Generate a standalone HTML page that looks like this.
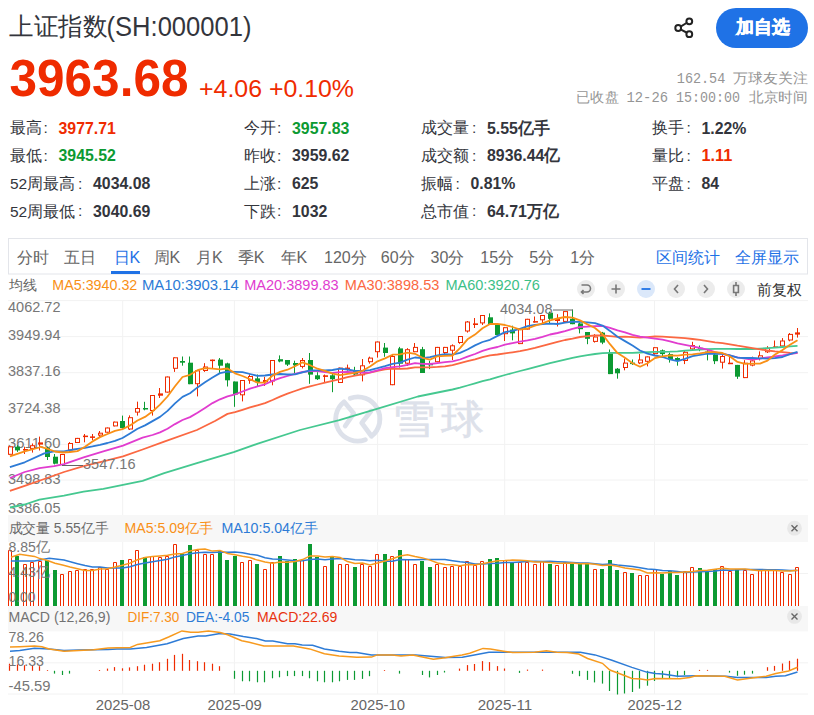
<!DOCTYPE html>
<html><head><meta charset="utf-8"><style>html,body{margin:0;padding:0;background:#fff;width:814px;height:715px;overflow:hidden}svg{display:block}</style></head>
<body><svg width="814" height="715" viewBox="0 0 814 715" style="font-family:'Liberation Sans',sans-serif">
<text x="9" y="35.2" font-size="24.6" fill="#33353c" font-weight="normal" font-family="'Liberation Sans',sans-serif" text-anchor="start" textLength="98" lengthAdjust="spacingAndGlyphs">上证指数</text>
<text x="106.5" y="35.5" font-size="27" fill="#33353c" font-weight="normal" font-family="'Liberation Sans',sans-serif" text-anchor="start" textLength="145" lengthAdjust="spacingAndGlyphs">(SH:000001)</text>
<text x="9.5" y="96.2" font-size="51" fill="#ef2b00" font-weight="bold" font-family="'Liberation Sans',sans-serif" text-anchor="start" textLength="179" lengthAdjust="spacingAndGlyphs">3963.68</text>
<text x="199" y="96.5" font-size="24" fill="#ef2b00" font-weight="normal" font-family="'Liberation Sans',sans-serif" text-anchor="start" textLength="155" lengthAdjust="spacingAndGlyphs">+4.06 +0.10%</text>
<g fill="none" stroke="#222" stroke-width="2"><circle cx="689.3" cy="21.3" r="2.9"/><circle cx="678.2" cy="28" r="2.9"/><circle cx="689.3" cy="34.2" r="2.9"/><path d="M681 26.3 L686.5 23 M681 29.7 L686.5 32.5"/></g>
<rect x="716" y="8" width="92" height="40" rx="20" fill="#1f72e6"/>
<text x="735.5" y="33.2" font-size="18.3" fill="#fff" font-weight="bold" font-family="'Liberation Sans',sans-serif" text-anchor="start" textLength="54" lengthAdjust="spacingAndGlyphs" stroke="#fff" stroke-width="0.5">加自选</text>
<text x="676.8" y="82.8" font-size="14" fill="#959595" font-weight="normal" font-family="'Liberation Mono',monospace" text-anchor="start" textLength="48.5" lengthAdjust="spacingAndGlyphs">162.54</text>
<text x="733" y="82.8" font-size="14" fill="#959595" font-weight="normal" font-family="'Liberation Mono',monospace" text-anchor="start" textLength="74.5" lengthAdjust="spacingAndGlyphs">万球友关注</text>
<text x="576.3" y="101.8" font-size="14" fill="#959595" font-weight="normal" font-family="'Liberation Mono',monospace" text-anchor="start" textLength="42.5" lengthAdjust="spacingAndGlyphs">已收盘</text>
<text x="626.5" y="101.8" font-size="14" fill="#959595" font-weight="normal" font-family="'Liberation Mono',monospace" text-anchor="start" textLength="41.5" lengthAdjust="spacingAndGlyphs">12-26</text>
<text x="676" y="101.8" font-size="14" fill="#959595" font-weight="normal" font-family="'Liberation Mono',monospace" text-anchor="start" textLength="64" lengthAdjust="spacingAndGlyphs">15:00:00</text>
<text x="749" y="101.8" font-size="14" fill="#959595" font-weight="normal" font-family="'Liberation Mono',monospace" text-anchor="start" textLength="58.5" lengthAdjust="spacingAndGlyphs">北京时间</text>
<text x="10" y="133.3" font-size="15.5" fill="#33353c" font-weight="normal" font-family="'Liberation Sans',sans-serif" text-anchor="start">最高</text>
<text x="43.5" y="133.0" font-size="15.5" fill="#33353c" font-weight="normal" font-family="'Liberation Sans',sans-serif" text-anchor="start">:</text>
<text x="58.5" y="133.5" font-size="17" fill="#ef2b00" font-weight="bold" font-family="'Liberation Sans',sans-serif" text-anchor="start" textLength="57.3" lengthAdjust="spacingAndGlyphs">3977.71</text>
<text x="10" y="161.10000000000002" font-size="15.5" fill="#33353c" font-weight="normal" font-family="'Liberation Sans',sans-serif" text-anchor="start">最低</text>
<text x="43.5" y="160.8" font-size="15.5" fill="#33353c" font-weight="normal" font-family="'Liberation Sans',sans-serif" text-anchor="start">:</text>
<text x="58.5" y="161.3" font-size="17" fill="#0c9a32" font-weight="bold" font-family="'Liberation Sans',sans-serif" text-anchor="start" textLength="57.3" lengthAdjust="spacingAndGlyphs">3945.52</text>
<text x="10" y="188.9" font-size="15.5" fill="#33353c" font-weight="normal" font-family="'Liberation Sans',sans-serif" text-anchor="start">52周最高</text>
<text x="78" y="188.6" font-size="15.5" fill="#33353c" font-weight="normal" font-family="'Liberation Sans',sans-serif" text-anchor="start">:</text>
<text x="93" y="189.1" font-size="17" fill="#33353c" font-weight="bold" font-family="'Liberation Sans',sans-serif" text-anchor="start" textLength="57.3" lengthAdjust="spacingAndGlyphs">4034.08</text>
<text x="10" y="216.70000000000002" font-size="15.5" fill="#33353c" font-weight="normal" font-family="'Liberation Sans',sans-serif" text-anchor="start">52周最低</text>
<text x="78" y="216.4" font-size="15.5" fill="#33353c" font-weight="normal" font-family="'Liberation Sans',sans-serif" text-anchor="start">:</text>
<text x="93" y="216.9" font-size="17" fill="#33353c" font-weight="bold" font-family="'Liberation Sans',sans-serif" text-anchor="start" textLength="57.3" lengthAdjust="spacingAndGlyphs">3040.69</text>
<text x="243.5" y="133.3" font-size="15.5" fill="#33353c" font-weight="normal" font-family="'Liberation Sans',sans-serif" text-anchor="start">今开</text>
<text x="277" y="133.0" font-size="15.5" fill="#33353c" font-weight="normal" font-family="'Liberation Sans',sans-serif" text-anchor="start">:</text>
<text x="292" y="133.5" font-size="17" fill="#0c9a32" font-weight="bold" font-family="'Liberation Sans',sans-serif" text-anchor="start" textLength="57.3" lengthAdjust="spacingAndGlyphs">3957.83</text>
<text x="243.5" y="161.10000000000002" font-size="15.5" fill="#33353c" font-weight="normal" font-family="'Liberation Sans',sans-serif" text-anchor="start">昨收</text>
<text x="277" y="160.8" font-size="15.5" fill="#33353c" font-weight="normal" font-family="'Liberation Sans',sans-serif" text-anchor="start">:</text>
<text x="292" y="161.3" font-size="17" fill="#33353c" font-weight="bold" font-family="'Liberation Sans',sans-serif" text-anchor="start" textLength="57.3" lengthAdjust="spacingAndGlyphs">3959.62</text>
<text x="243.5" y="188.9" font-size="15.5" fill="#33353c" font-weight="normal" font-family="'Liberation Sans',sans-serif" text-anchor="start">上涨</text>
<text x="277" y="188.6" font-size="15.5" fill="#33353c" font-weight="normal" font-family="'Liberation Sans',sans-serif" text-anchor="start">:</text>
<text x="292" y="189.1" font-size="17" fill="#33353c" font-weight="bold" font-family="'Liberation Sans',sans-serif" text-anchor="start" textLength="26.4" lengthAdjust="spacingAndGlyphs">625</text>
<text x="243.5" y="216.70000000000002" font-size="15.5" fill="#33353c" font-weight="normal" font-family="'Liberation Sans',sans-serif" text-anchor="start">下跌</text>
<text x="277" y="216.4" font-size="15.5" fill="#33353c" font-weight="normal" font-family="'Liberation Sans',sans-serif" text-anchor="start">:</text>
<text x="292" y="216.9" font-size="17" fill="#33353c" font-weight="bold" font-family="'Liberation Sans',sans-serif" text-anchor="start" textLength="35.3" lengthAdjust="spacingAndGlyphs">1032</text>
<text x="421.4" y="133.3" font-size="15.5" fill="#33353c" font-weight="normal" font-family="'Liberation Sans',sans-serif" text-anchor="start">成交量</text>
<text x="472" y="133.0" font-size="15.5" fill="#33353c" font-weight="normal" font-family="'Liberation Sans',sans-serif" text-anchor="start">:</text>
<text x="487" y="133.5" font-size="17" fill="#33353c" font-weight="bold" font-family="'Liberation Sans',sans-serif" text-anchor="start" textLength="62.8" lengthAdjust="spacingAndGlyphs">5.55亿手</text>
<text x="421.4" y="161.10000000000002" font-size="15.5" fill="#33353c" font-weight="normal" font-family="'Liberation Sans',sans-serif" text-anchor="start">成交额</text>
<text x="472" y="160.8" font-size="15.5" fill="#33353c" font-weight="normal" font-family="'Liberation Sans',sans-serif" text-anchor="start">:</text>
<text x="487" y="161.3" font-size="17" fill="#33353c" font-weight="bold" font-family="'Liberation Sans',sans-serif" text-anchor="start" textLength="73.3" lengthAdjust="spacingAndGlyphs">8936.44亿</text>
<text x="421.4" y="188.9" font-size="15.5" fill="#33353c" font-weight="normal" font-family="'Liberation Sans',sans-serif" text-anchor="start">振幅</text>
<text x="455.5" y="188.6" font-size="15.5" fill="#33353c" font-weight="normal" font-family="'Liberation Sans',sans-serif" text-anchor="start">:</text>
<text x="470.5" y="189.1" font-size="17" fill="#33353c" font-weight="bold" font-family="'Liberation Sans',sans-serif" text-anchor="start" textLength="44.9" lengthAdjust="spacingAndGlyphs">0.81%</text>
<text x="421.4" y="216.70000000000002" font-size="15.5" fill="#33353c" font-weight="normal" font-family="'Liberation Sans',sans-serif" text-anchor="start">总市值</text>
<text x="472" y="216.4" font-size="15.5" fill="#33353c" font-weight="normal" font-family="'Liberation Sans',sans-serif" text-anchor="start">:</text>
<text x="487" y="216.9" font-size="17" fill="#33353c" font-weight="bold" font-family="'Liberation Sans',sans-serif" text-anchor="start" textLength="71.7" lengthAdjust="spacingAndGlyphs">64.71万亿</text>
<text x="652" y="133.3" font-size="15.5" fill="#33353c" font-weight="normal" font-family="'Liberation Sans',sans-serif" text-anchor="start">换手</text>
<text x="686.5" y="133.0" font-size="15.5" fill="#33353c" font-weight="normal" font-family="'Liberation Sans',sans-serif" text-anchor="start">:</text>
<text x="701.5" y="133.5" font-size="17" fill="#33353c" font-weight="bold" font-family="'Liberation Sans',sans-serif" text-anchor="start" textLength="44.9" lengthAdjust="spacingAndGlyphs">1.22%</text>
<text x="652" y="161.10000000000002" font-size="15.5" fill="#33353c" font-weight="normal" font-family="'Liberation Sans',sans-serif" text-anchor="start">量比</text>
<text x="686.5" y="160.8" font-size="15.5" fill="#33353c" font-weight="normal" font-family="'Liberation Sans',sans-serif" text-anchor="start">:</text>
<text x="701.5" y="161.3" font-size="17" fill="#ef2b00" font-weight="bold" font-family="'Liberation Sans',sans-serif" text-anchor="start" textLength="30.8" lengthAdjust="spacingAndGlyphs">1.11</text>
<text x="652" y="188.9" font-size="15.5" fill="#33353c" font-weight="normal" font-family="'Liberation Sans',sans-serif" text-anchor="start">平盘</text>
<text x="686.5" y="188.6" font-size="15.5" fill="#33353c" font-weight="normal" font-family="'Liberation Sans',sans-serif" text-anchor="start">:</text>
<text x="701.5" y="189.1" font-size="17" fill="#33353c" font-weight="bold" font-family="'Liberation Sans',sans-serif" text-anchor="start" textLength="17.6" lengthAdjust="spacingAndGlyphs">84</text>
<rect x="8.5" y="238.5" width="799" height="35.5" fill="none" stroke="#e3e5ea" stroke-width="1"/>
<text x="16.7" y="262.7" font-size="16" fill="#666" font-weight="normal" font-family="'Liberation Sans',sans-serif" text-anchor="start">分时</text>
<text x="64" y="262.7" font-size="16" fill="#666" font-weight="normal" font-family="'Liberation Sans',sans-serif" text-anchor="start">五日</text>
<text x="113.5" y="262.7" font-size="16" fill="#1f72e6" font-weight="normal" font-family="'Liberation Sans',sans-serif" text-anchor="start">日K</text>
<text x="153.5" y="262.7" font-size="16" fill="#666" font-weight="normal" font-family="'Liberation Sans',sans-serif" text-anchor="start">周K</text>
<text x="196" y="262.7" font-size="16" fill="#666" font-weight="normal" font-family="'Liberation Sans',sans-serif" text-anchor="start">月K</text>
<text x="237.8" y="262.7" font-size="16" fill="#666" font-weight="normal" font-family="'Liberation Sans',sans-serif" text-anchor="start">季K</text>
<text x="280.5" y="262.7" font-size="16" fill="#666" font-weight="normal" font-family="'Liberation Sans',sans-serif" text-anchor="start">年K</text>
<text x="324" y="262.7" font-size="16" fill="#666" font-weight="normal" font-family="'Liberation Sans',sans-serif" text-anchor="start">120分</text>
<text x="380.8" y="262.7" font-size="16" fill="#666" font-weight="normal" font-family="'Liberation Sans',sans-serif" text-anchor="start">60分</text>
<text x="430.5" y="262.7" font-size="16" fill="#666" font-weight="normal" font-family="'Liberation Sans',sans-serif" text-anchor="start">30分</text>
<text x="480.3" y="262.7" font-size="16" fill="#666" font-weight="normal" font-family="'Liberation Sans',sans-serif" text-anchor="start">15分</text>
<text x="529.3" y="262.7" font-size="16" fill="#666" font-weight="normal" font-family="'Liberation Sans',sans-serif" text-anchor="start">5分</text>
<text x="570.2" y="262.7" font-size="16" fill="#666" font-weight="normal" font-family="'Liberation Sans',sans-serif" text-anchor="start">1分</text>
<rect x="111" y="271" width="29" height="3" fill="#1f72e6"/>
<text x="656" y="262.7" font-size="16" fill="#1f72e6" font-weight="normal" font-family="'Liberation Sans',sans-serif" text-anchor="start">区间统计</text>
<text x="735" y="262.7" font-size="16" fill="#1f72e6" font-weight="normal" font-family="'Liberation Sans',sans-serif" text-anchor="start">全屏显示</text>
<text x="9.2" y="290" font-size="14" fill="#666" font-weight="normal" font-family="'Liberation Sans',sans-serif" text-anchor="start">均线</text>
<text x="52.3" y="289.5" font-size="15" fill="#f99016" font-weight="normal" font-family="'Liberation Sans',sans-serif" text-anchor="start" textLength="85" lengthAdjust="spacingAndGlyphs">MA5:3940.32</text>
<text x="141.9" y="289.5" font-size="15" fill="#2d7bd6" font-weight="normal" font-family="'Liberation Sans',sans-serif" text-anchor="start" textLength="97" lengthAdjust="spacingAndGlyphs">MA10:3903.14</text>
<text x="244.2" y="289.5" font-size="15" fill="#e13ccf" font-weight="normal" font-family="'Liberation Sans',sans-serif" text-anchor="start" textLength="94.5" lengthAdjust="spacingAndGlyphs">MA20:3899.83</text>
<text x="344.8" y="289.5" font-size="15" fill="#fb6842" font-weight="normal" font-family="'Liberation Sans',sans-serif" text-anchor="start" textLength="94.5" lengthAdjust="spacingAndGlyphs">MA30:3898.53</text>
<text x="445.4" y="289.5" font-size="15" fill="#3cc087" font-weight="normal" font-family="'Liberation Sans',sans-serif" text-anchor="start" textLength="94.5" lengthAdjust="spacingAndGlyphs">MA60:3920.76</text>
<circle cx="586" cy="289" r="9" fill="#ececec"/>
<circle cx="616" cy="289" r="9" fill="#ececec"/>
<circle cx="646" cy="289" r="9" fill="#dbe8fa"/>
<circle cx="676" cy="289" r="9" fill="#ececec"/>
<circle cx="706" cy="289" r="9" fill="#ececec"/>
<circle cx="736" cy="289" r="9" fill="#ececec"/>
<path d="M581.5 285 h5.5 a3.5 3.5 0 0 1 0 7 h-5.5 M583.5 290 l-2 2 l2 2" fill="none" stroke="#777" stroke-width="1.6"/>
<path d="M611.5 289 h9 M616 284.5 v9" stroke="#777" stroke-width="1.6"/>
<path d="M641.5 289 h9" stroke="#1f72e6" stroke-width="1.8"/>
<path d="M678 285 l-3.5 4 l3.5 4" fill="none" stroke="#777" stroke-width="1.6"/>
<path d="M704 285 l3.5 4 l-3.5 4" fill="none" stroke="#777" stroke-width="1.6"/>
<path d="M736 282 v3.5 M736 292.5 v3.5 M733.6 285.5 h4.8 v7 h-4.8 z" fill="none" stroke="#777" stroke-width="1.6"/>
<text x="757.4" y="294.5" font-size="15" fill="#333" font-weight="normal" font-family="'Liberation Sans',sans-serif" text-anchor="start" textLength="44.5" lengthAdjust="spacingAndGlyphs">前复权</text>
<line x1="8" y1="300.6" x2="808" y2="300.6" stroke="#f2f2f2" stroke-width="1"/>
<line x1="8" y1="336.6" x2="808" y2="336.6" stroke="#f2f2f2" stroke-width="1"/>
<line x1="8" y1="372.7" x2="808" y2="372.7" stroke="#f2f2f2" stroke-width="1"/>
<line x1="8" y1="408.9" x2="808" y2="408.9" stroke="#f2f2f2" stroke-width="1"/>
<line x1="8" y1="444.4" x2="808" y2="444.4" stroke="#f2f2f2" stroke-width="1"/>
<line x1="8" y1="480" x2="808" y2="480" stroke="#f2f2f2" stroke-width="1"/>
<line x1="8" y1="515.6" x2="808" y2="515.6" stroke="#f2f2f2" stroke-width="1"/>
<line x1="122.7" y1="300.6" x2="122.7" y2="515" stroke="#f2f2f2" stroke-width="1"/>
<line x1="122.7" y1="542" x2="122.7" y2="606" stroke="#f2f2f2" stroke-width="1"/>
<line x1="122.7" y1="631" x2="122.7" y2="694" stroke="#f2f2f2" stroke-width="1"/>
<line x1="234.4" y1="300.6" x2="234.4" y2="515" stroke="#f2f2f2" stroke-width="1"/>
<line x1="234.4" y1="542" x2="234.4" y2="606" stroke="#f2f2f2" stroke-width="1"/>
<line x1="234.4" y1="631" x2="234.4" y2="694" stroke="#f2f2f2" stroke-width="1"/>
<line x1="377.6" y1="300.6" x2="377.6" y2="515" stroke="#f2f2f2" stroke-width="1"/>
<line x1="377.6" y1="542" x2="377.6" y2="606" stroke="#f2f2f2" stroke-width="1"/>
<line x1="377.6" y1="631" x2="377.6" y2="694" stroke="#f2f2f2" stroke-width="1"/>
<line x1="504.7" y1="300.6" x2="504.7" y2="515" stroke="#f2f2f2" stroke-width="1"/>
<line x1="504.7" y1="542" x2="504.7" y2="606" stroke="#f2f2f2" stroke-width="1"/>
<line x1="504.7" y1="631" x2="504.7" y2="694" stroke="#f2f2f2" stroke-width="1"/>
<line x1="654.5" y1="300.6" x2="654.5" y2="515" stroke="#f2f2f2" stroke-width="1"/>
<line x1="654.5" y1="542" x2="654.5" y2="606" stroke="#f2f2f2" stroke-width="1"/>
<line x1="654.5" y1="631" x2="654.5" y2="694" stroke="#f2f2f2" stroke-width="1"/>
<g fill="none" stroke="#dde1ea" stroke-width="4.8" stroke-linecap="round" stroke-linejoin="round"><path d="M345.2,426 L353.8,413.5 L344.05,401.8 A22,22 0 0,0 365.3,439.7"/><path d="M371.1,411.1 L361.7,422.9 L371.55,436.2 A22,22 0 0,0 350.3,398.3"/></g>
<text x="391.5" y="432.8" font-size="40" fill="#dde1ea" font-weight="normal" font-family="'Liberation Sans',sans-serif" text-anchor="start" textLength="43" lengthAdjust="spacingAndGlyphs" stroke="#dde1ea" stroke-width="0.6">雪</text>
<text x="440.5" y="432.8" font-size="40" fill="#dde1ea" font-weight="normal" font-family="'Liberation Sans',sans-serif" text-anchor="start" textLength="43" lengthAdjust="spacingAndGlyphs" stroke="#dde1ea" stroke-width="0.6">球</text>
<text x="8" y="312" font-size="15.5" fill="#777" font-weight="normal" font-family="'Liberation Sans',sans-serif" text-anchor="start" textLength="52.5" lengthAdjust="spacingAndGlyphs">4062.72</text>
<text x="8" y="340" font-size="15.5" fill="#777" font-weight="normal" font-family="'Liberation Sans',sans-serif" text-anchor="start" textLength="52.5" lengthAdjust="spacingAndGlyphs">3949.94</text>
<text x="8" y="376" font-size="15.5" fill="#777" font-weight="normal" font-family="'Liberation Sans',sans-serif" text-anchor="start" textLength="52.5" lengthAdjust="spacingAndGlyphs">3837.16</text>
<text x="8" y="412.5" font-size="15.5" fill="#777" font-weight="normal" font-family="'Liberation Sans',sans-serif" text-anchor="start" textLength="52.5" lengthAdjust="spacingAndGlyphs">3724.38</text>
<text x="8" y="448" font-size="15.5" fill="#777" font-weight="normal" font-family="'Liberation Sans',sans-serif" text-anchor="start" textLength="52.5" lengthAdjust="spacingAndGlyphs">3611.60</text>
<text x="8" y="484" font-size="15.5" fill="#777" font-weight="normal" font-family="'Liberation Sans',sans-serif" text-anchor="start" textLength="52.5" lengthAdjust="spacingAndGlyphs">3498.83</text>
<text x="8" y="513" font-size="15.5" fill="#777" font-weight="normal" font-family="'Liberation Sans',sans-serif" text-anchor="start" textLength="52.5" lengthAdjust="spacingAndGlyphs">3386.05</text>
<line x1="9.5" y1="446.3" x2="9.5" y2="454.8" stroke="#ef2b00" stroke-width="1"/>
<rect x="8.5" y="446.8" width="4" height="7.5" fill="#fff" stroke="#ef2b00" stroke-width="1"/>
<line x1="17.5" y1="445.2" x2="17.5" y2="451.9" stroke="#0c9a32" stroke-width="1"/>
<rect x="15" y="446.7" width="5" height="3.6999999999999886" fill="#0c9a32"/>
<line x1="24.5" y1="446.7" x2="24.5" y2="454.0" stroke="#ef2b00" stroke-width="1"/>
<rect x="23" y="449.0" width="5" height="1.5" fill="#ef2b00"/>
<line x1="32.5" y1="443.7" x2="32.5" y2="452.6" stroke="#ef2b00" stroke-width="1"/>
<rect x="30.5" y="445.7" width="4" height="2.6999999999999886" fill="#fff" stroke="#ef2b00" stroke-width="1"/>
<line x1="32.5" y1="443.7" x2="32.5" y2="445.2" stroke="#ef2b00" stroke-width="1"/>
<line x1="39.5" y1="436.6" x2="39.5" y2="450.5" stroke="#ef2b00" stroke-width="1"/>
<rect x="38" y="442.4" width="5" height="2.2000000000000455" fill="#ef2b00"/>
<line x1="47.5" y1="446.7" x2="47.5" y2="460.0" stroke="#0c9a32" stroke-width="1"/>
<rect x="45" y="448.0" width="5" height="9.0" fill="#0c9a32"/>
<line x1="54.5" y1="454.0" x2="54.5" y2="464.4" stroke="#0c9a32" stroke-width="1"/>
<rect x="53" y="456.7" width="5" height="7.0" fill="#0c9a32"/>
<line x1="62.5" y1="454.0" x2="62.5" y2="465.0" stroke="#ef2b00" stroke-width="1"/>
<rect x="60.5" y="454.5" width="4" height="10.0" fill="#fff" stroke="#ef2b00" stroke-width="1"/>
<line x1="69.5" y1="442.3" x2="69.5" y2="452.6" stroke="#ef2b00" stroke-width="1"/>
<rect x="68.5" y="443.5" width="4" height="6.399999999999977" fill="#fff" stroke="#ef2b00" stroke-width="1"/>
<line x1="69.5" y1="442.3" x2="69.5" y2="443.0" stroke="#ef2b00" stroke-width="1"/>
<line x1="77.5" y1="437.9" x2="77.5" y2="443.0" stroke="#ef2b00" stroke-width="1"/>
<rect x="75.5" y="438.4" width="4" height="4.100000000000023" fill="#fff" stroke="#ef2b00" stroke-width="1"/>
<line x1="84.5" y1="434.0" x2="84.5" y2="442.3" stroke="#ef2b00" stroke-width="1"/>
<rect x="83" y="435.6" width="5" height="1.5" fill="#ef2b00"/>
<line x1="92.5" y1="434.0" x2="92.5" y2="440.0" stroke="#ef2b00" stroke-width="1"/>
<rect x="90" y="436.4" width="5" height="1.5" fill="#ef2b00"/>
<line x1="99.5" y1="431.0" x2="99.5" y2="437.9" stroke="#ef2b00" stroke-width="1"/>
<rect x="98.5" y="433.2" width="4" height="1.900000000000034" fill="#fff" stroke="#ef2b00" stroke-width="1"/>
<line x1="99.5" y1="431.0" x2="99.5" y2="432.7" stroke="#ef2b00" stroke-width="1"/>
<line x1="107.5" y1="427.5" x2="107.5" y2="432.7" stroke="#ef2b00" stroke-width="1"/>
<rect x="105.5" y="428.0" width="4" height="4.199999999999989" fill="#fff" stroke="#ef2b00" stroke-width="1"/>
<line x1="114.5" y1="421.6" x2="114.5" y2="426.4" stroke="#ef2b00" stroke-width="1"/>
<rect x="113.5" y="422.1" width="4" height="3.7999999999999545" fill="#fff" stroke="#ef2b00" stroke-width="1"/>
<line x1="122.5" y1="415.6" x2="122.5" y2="428.7" stroke="#0c9a32" stroke-width="1"/>
<rect x="120" y="421.0" width="5" height="7.0" fill="#0c9a32"/>
<line x1="129.5" y1="415.6" x2="129.5" y2="430.0" stroke="#ef2b00" stroke-width="1"/>
<rect x="128.5" y="417.7" width="4" height="11.300000000000011" fill="#fff" stroke="#ef2b00" stroke-width="1"/>
<line x1="129.5" y1="415.6" x2="129.5" y2="417.2" stroke="#ef2b00" stroke-width="1"/>
<line x1="137.5" y1="401.8" x2="137.5" y2="415.6" stroke="#ef2b00" stroke-width="1"/>
<rect x="135.5" y="408.5" width="4" height="3.6000000000000227" fill="#fff" stroke="#ef2b00" stroke-width="1"/>
<line x1="137.5" y1="401.8" x2="137.5" y2="408.0" stroke="#ef2b00" stroke-width="1"/>
<line x1="144.5" y1="401.8" x2="144.5" y2="410.3" stroke="#0c9a32" stroke-width="1"/>
<rect x="143" y="408.0" width="5" height="1.5" fill="#0c9a32"/>
<line x1="152.5" y1="395.0" x2="152.5" y2="415.6" stroke="#ef2b00" stroke-width="1"/>
<rect x="150.5" y="395.5" width="4" height="15.0" fill="#fff" stroke="#ef2b00" stroke-width="1"/>
<line x1="159.5" y1="388.0" x2="159.5" y2="398.0" stroke="#ef2b00" stroke-width="1"/>
<rect x="158" y="393.4" width="5" height="2.3000000000000114" fill="#ef2b00"/>
<line x1="167.5" y1="376.5" x2="167.5" y2="392.6" stroke="#ef2b00" stroke-width="1"/>
<rect x="165.5" y="377.0" width="4" height="15.100000000000023" fill="#fff" stroke="#ef2b00" stroke-width="1"/>
<line x1="174.5" y1="357.3" x2="174.5" y2="371.9" stroke="#ef2b00" stroke-width="1"/>
<rect x="173.5" y="357.8" width="4" height="10.5" fill="#fff" stroke="#ef2b00" stroke-width="1"/>
<line x1="182.5" y1="356.5" x2="182.5" y2="365.7" stroke="#0c9a32" stroke-width="1"/>
<rect x="180" y="361.0" width="5" height="1.6999999999999886" fill="#0c9a32"/>
<line x1="189.5" y1="356.5" x2="189.5" y2="384.2" stroke="#0c9a32" stroke-width="1"/>
<rect x="188" y="362.7" width="5" height="21.5" fill="#0c9a32"/>
<line x1="197.5" y1="370.3" x2="197.5" y2="396.4" stroke="#ef2b00" stroke-width="1"/>
<rect x="195.5" y="370.8" width="4" height="12.899999999999977" fill="#fff" stroke="#ef2b00" stroke-width="1"/>
<line x1="204.5" y1="363.4" x2="204.5" y2="371.9" stroke="#ef2b00" stroke-width="1"/>
<rect x="203.5" y="367.0" width="4" height="3.5" fill="#fff" stroke="#ef2b00" stroke-width="1"/>
<line x1="204.5" y1="363.4" x2="204.5" y2="366.5" stroke="#ef2b00" stroke-width="1"/>
<line x1="212.5" y1="359.6" x2="212.5" y2="368.0" stroke="#ef2b00" stroke-width="1"/>
<rect x="210" y="359.6" width="5" height="1.5" fill="#ef2b00"/>
<line x1="219.5" y1="358.0" x2="219.5" y2="373.4" stroke="#0c9a32" stroke-width="1"/>
<rect x="218" y="359.6" width="5" height="6.099999999999966" fill="#0c9a32"/>
<line x1="227.5" y1="362.7" x2="227.5" y2="386.5" stroke="#0c9a32" stroke-width="1"/>
<rect x="225" y="363.4" width="5" height="16.900000000000034" fill="#0c9a32"/>
<line x1="234.5" y1="381.5" x2="234.5" y2="406.8" stroke="#0c9a32" stroke-width="1"/>
<rect x="233" y="381.5" width="5" height="13.0" fill="#0c9a32"/>
<line x1="242.5" y1="380.0" x2="242.5" y2="401.4" stroke="#ef2b00" stroke-width="1"/>
<rect x="240.5" y="380.5" width="4" height="14.300000000000011" fill="#fff" stroke="#ef2b00" stroke-width="1"/>
<line x1="249.5" y1="374.5" x2="249.5" y2="383.8" stroke="#ef2b00" stroke-width="1"/>
<rect x="248.5" y="376.5" width="4" height="3.6999999999999886" fill="#fff" stroke="#ef2b00" stroke-width="1"/>
<line x1="249.5" y1="374.5" x2="249.5" y2="376.0" stroke="#ef2b00" stroke-width="1"/>
<line x1="257.5" y1="374.5" x2="257.5" y2="386.8" stroke="#0c9a32" stroke-width="1"/>
<rect x="255" y="378.4" width="5" height="3.8000000000000114" fill="#0c9a32"/>
<line x1="264.5" y1="376.9" x2="264.5" y2="386.0" stroke="#ef2b00" stroke-width="1"/>
<rect x="263" y="380.0" width="5" height="2.1999999999999886" fill="#ef2b00"/>
<line x1="272.5" y1="360.0" x2="272.5" y2="385.3" stroke="#ef2b00" stroke-width="1"/>
<rect x="270.5" y="360.5" width="4" height="20.5" fill="#fff" stroke="#ef2b00" stroke-width="1"/>
<line x1="279.5" y1="355.4" x2="279.5" y2="362.3" stroke="#0c9a32" stroke-width="1"/>
<rect x="278" y="359.2" width="5" height="2.3000000000000114" fill="#0c9a32"/>
<line x1="287.5" y1="360.0" x2="287.5" y2="366.0" stroke="#0c9a32" stroke-width="1"/>
<rect x="285" y="360.0" width="5" height="4.600000000000023" fill="#0c9a32"/>
<line x1="294.5" y1="360.7" x2="294.5" y2="373.0" stroke="#0c9a32" stroke-width="1"/>
<rect x="293" y="363.0" width="5" height="2.3000000000000114" fill="#0c9a32"/>
<line x1="302.5" y1="358.0" x2="302.5" y2="368.4" stroke="#ef2b00" stroke-width="1"/>
<rect x="300.5" y="360.5" width="4" height="5.899999999999977" fill="#fff" stroke="#ef2b00" stroke-width="1"/>
<line x1="302.5" y1="358.0" x2="302.5" y2="360.0" stroke="#ef2b00" stroke-width="1"/>
<line x1="309.5" y1="353.0" x2="309.5" y2="383.8" stroke="#0c9a32" stroke-width="1"/>
<rect x="308" y="360.0" width="5" height="14.600000000000023" fill="#0c9a32"/>
<line x1="317.5" y1="372.2" x2="317.5" y2="380.0" stroke="#0c9a32" stroke-width="1"/>
<rect x="315" y="375.3" width="5" height="3.8999999999999773" fill="#0c9a32"/>
<line x1="324.5" y1="374.5" x2="324.5" y2="382.2" stroke="#ef2b00" stroke-width="1"/>
<rect x="323" y="375.3" width="5" height="1.599999999999966" fill="#ef2b00"/>
<line x1="332.5" y1="373.8" x2="332.5" y2="392.2" stroke="#0c9a32" stroke-width="1"/>
<rect x="330" y="375.3" width="5" height="3.8999999999999773" fill="#0c9a32"/>
<line x1="339.5" y1="367.6" x2="339.5" y2="383.0" stroke="#ef2b00" stroke-width="1"/>
<rect x="338.5" y="368.1" width="4" height="14.399999999999977" fill="#fff" stroke="#ef2b00" stroke-width="1"/>
<line x1="347.5" y1="364.6" x2="347.5" y2="370.7" stroke="#ef2b00" stroke-width="1"/>
<rect x="345" y="367.6" width="5" height="1.599999999999966" fill="#ef2b00"/>
<line x1="354.5" y1="366.8" x2="354.5" y2="375.3" stroke="#0c9a32" stroke-width="1"/>
<rect x="353" y="370.7" width="5" height="3.8000000000000114" fill="#0c9a32"/>
<line x1="362.5" y1="359.0" x2="362.5" y2="381.4" stroke="#ef2b00" stroke-width="1"/>
<rect x="360.5" y="365.8" width="4" height="9.0" fill="#fff" stroke="#ef2b00" stroke-width="1"/>
<line x1="362.5" y1="359.0" x2="362.5" y2="365.3" stroke="#ef2b00" stroke-width="1"/>
<line x1="369.5" y1="356.8" x2="369.5" y2="363.7" stroke="#ef2b00" stroke-width="1"/>
<rect x="368.5" y="358.1" width="4" height="3.599999999999966" fill="#fff" stroke="#ef2b00" stroke-width="1"/>
<line x1="369.5" y1="356.8" x2="369.5" y2="357.6" stroke="#ef2b00" stroke-width="1"/>
<line x1="377.5" y1="341.5" x2="377.5" y2="357.6" stroke="#ef2b00" stroke-width="1"/>
<rect x="375.5" y="342.0" width="4" height="9.699999999999989" fill="#fff" stroke="#ef2b00" stroke-width="1"/>
<line x1="384.5" y1="343.0" x2="384.5" y2="356.8" stroke="#0c9a32" stroke-width="1"/>
<rect x="383" y="347.6" width="5" height="5.399999999999977" fill="#0c9a32"/>
<line x1="392.5" y1="354.5" x2="392.5" y2="385.2" stroke="#ef2b00" stroke-width="1"/>
<rect x="390.5" y="356.5" width="4" height="28.19999999999999" fill="#fff" stroke="#ef2b00" stroke-width="1"/>
<line x1="392.5" y1="354.5" x2="392.5" y2="356.0" stroke="#ef2b00" stroke-width="1"/>
<line x1="399.5" y1="346.9" x2="399.5" y2="367.6" stroke="#0c9a32" stroke-width="1"/>
<rect x="398" y="348.4" width="5" height="15.300000000000011" fill="#0c9a32"/>
<line x1="407.5" y1="348.4" x2="407.5" y2="366.0" stroke="#ef2b00" stroke-width="1"/>
<rect x="405.5" y="349.7" width="4" height="13.5" fill="#fff" stroke="#ef2b00" stroke-width="1"/>
<line x1="407.5" y1="348.4" x2="407.5" y2="349.2" stroke="#ef2b00" stroke-width="1"/>
<line x1="414.5" y1="343.0" x2="414.5" y2="352.2" stroke="#ef2b00" stroke-width="1"/>
<rect x="413.5" y="347.4" width="4" height="4.300000000000011" fill="#fff" stroke="#ef2b00" stroke-width="1"/>
<line x1="414.5" y1="343.0" x2="414.5" y2="346.9" stroke="#ef2b00" stroke-width="1"/>
<line x1="422.5" y1="346.9" x2="422.5" y2="373.0" stroke="#0c9a32" stroke-width="1"/>
<rect x="420" y="349.2" width="5" height="23.80000000000001" fill="#0c9a32"/>
<line x1="429.5" y1="360.7" x2="429.5" y2="369.1" stroke="#0c9a32" stroke-width="1"/>
<rect x="428" y="363.7" width="5" height="1.6000000000000227" fill="#0c9a32"/>
<line x1="437.5" y1="346.9" x2="437.5" y2="362.2" stroke="#ef2b00" stroke-width="1"/>
<rect x="435.5" y="347.4" width="4" height="14.300000000000011" fill="#fff" stroke="#ef2b00" stroke-width="1"/>
<line x1="444.5" y1="346.9" x2="444.5" y2="354.5" stroke="#ef2b00" stroke-width="1"/>
<rect x="443.5" y="347.4" width="4" height="5.100000000000023" fill="#fff" stroke="#ef2b00" stroke-width="1"/>
<line x1="452.5" y1="344.6" x2="452.5" y2="360.0" stroke="#ef2b00" stroke-width="1"/>
<rect x="450.5" y="345.8" width="4" height="4.399999999999977" fill="#fff" stroke="#ef2b00" stroke-width="1"/>
<line x1="452.5" y1="344.6" x2="452.5" y2="345.3" stroke="#ef2b00" stroke-width="1"/>
<line x1="459.5" y1="336.0" x2="459.5" y2="343.8" stroke="#ef2b00" stroke-width="1"/>
<rect x="458.5" y="336.5" width="4" height="6.0" fill="#fff" stroke="#ef2b00" stroke-width="1"/>
<line x1="467.5" y1="321.0" x2="467.5" y2="332.6" stroke="#ef2b00" stroke-width="1"/>
<rect x="465.5" y="322.0" width="4" height="9.0" fill="#fff" stroke="#ef2b00" stroke-width="1"/>
<line x1="467.5" y1="321.0" x2="467.5" y2="321.5" stroke="#ef2b00" stroke-width="1"/>
<line x1="474.5" y1="318.0" x2="474.5" y2="328.0" stroke="#ef2b00" stroke-width="1"/>
<rect x="473" y="323.4" width="5" height="1.6000000000000227" fill="#ef2b00"/>
<line x1="482.5" y1="315.0" x2="482.5" y2="325.0" stroke="#ef2b00" stroke-width="1"/>
<rect x="480.5" y="315.5" width="4" height="7.399999999999977" fill="#fff" stroke="#ef2b00" stroke-width="1"/>
<line x1="489.5" y1="313.4" x2="489.5" y2="325.0" stroke="#0c9a32" stroke-width="1"/>
<rect x="488" y="317.3" width="5" height="6.899999999999977" fill="#0c9a32"/>
<line x1="497.5" y1="325.0" x2="497.5" y2="335.7" stroke="#0c9a32" stroke-width="1"/>
<rect x="495" y="325.0" width="5" height="10.0" fill="#0c9a32"/>
<line x1="504.5" y1="327.2" x2="504.5" y2="341.0" stroke="#ef2b00" stroke-width="1"/>
<rect x="503.5" y="327.7" width="4" height="6.0" fill="#fff" stroke="#ef2b00" stroke-width="1"/>
<line x1="512.5" y1="325.7" x2="512.5" y2="340.3" stroke="#0c9a32" stroke-width="1"/>
<rect x="510" y="329.6" width="5" height="3.7999999999999545" fill="#0c9a32"/>
<line x1="519.5" y1="328.0" x2="519.5" y2="344.1" stroke="#ef2b00" stroke-width="1"/>
<rect x="518.5" y="328.5" width="4" height="15.100000000000023" fill="#fff" stroke="#ef2b00" stroke-width="1"/>
<line x1="527.5" y1="318.8" x2="527.5" y2="329.6" stroke="#ef2b00" stroke-width="1"/>
<rect x="525.5" y="319.3" width="4" height="9.800000000000011" fill="#fff" stroke="#ef2b00" stroke-width="1"/>
<line x1="534.5" y1="316.5" x2="534.5" y2="322.6" stroke="#ef2b00" stroke-width="1"/>
<rect x="533" y="321.1" width="5" height="1.5" fill="#ef2b00"/>
<line x1="542.5" y1="315.0" x2="542.5" y2="323.4" stroke="#ef2b00" stroke-width="1"/>
<rect x="540.5" y="315.5" width="4" height="4.300000000000011" fill="#fff" stroke="#ef2b00" stroke-width="1"/>
<line x1="549.5" y1="311.6" x2="549.5" y2="323.4" stroke="#0c9a32" stroke-width="1"/>
<rect x="548" y="312.7" width="5" height="6.100000000000023" fill="#0c9a32"/>
<line x1="557.5" y1="314.2" x2="557.5" y2="326.5" stroke="#ef2b00" stroke-width="1"/>
<rect x="555" y="318.8" width="5" height="2.1999999999999886" fill="#ef2b00"/>
<line x1="564.5" y1="311.1" x2="564.5" y2="321.9" stroke="#ef2b00" stroke-width="1"/>
<rect x="563.5" y="311.6" width="4" height="9.799999999999955" fill="#fff" stroke="#ef2b00" stroke-width="1"/>
<line x1="572.5" y1="309.6" x2="572.5" y2="324.2" stroke="#0c9a32" stroke-width="1"/>
<rect x="570" y="318.8" width="5" height="5.399999999999977" fill="#0c9a32"/>
<line x1="579.5" y1="322.6" x2="579.5" y2="333.4" stroke="#0c9a32" stroke-width="1"/>
<rect x="578" y="323.4" width="5" height="5.800000000000011" fill="#0c9a32"/>
<line x1="587.5" y1="332.0" x2="587.5" y2="344.2" stroke="#0c9a32" stroke-width="1"/>
<rect x="585" y="332.0" width="5" height="6.800000000000011" fill="#0c9a32"/>
<line x1="594.5" y1="334.2" x2="594.5" y2="342.6" stroke="#ef2b00" stroke-width="1"/>
<rect x="593.5" y="337.0" width="4" height="4.399999999999977" fill="#fff" stroke="#ef2b00" stroke-width="1"/>
<line x1="594.5" y1="334.2" x2="594.5" y2="336.5" stroke="#ef2b00" stroke-width="1"/>
<line x1="602.5" y1="331.9" x2="602.5" y2="344.2" stroke="#0c9a32" stroke-width="1"/>
<rect x="600" y="332.6" width="5" height="10.0" fill="#0c9a32"/>
<line x1="609.5" y1="349.5" x2="609.5" y2="374.1" stroke="#0c9a32" stroke-width="1"/>
<rect x="608" y="353.4" width="5" height="20.700000000000045" fill="#0c9a32"/>
<line x1="617.5" y1="368.0" x2="617.5" y2="378.7" stroke="#0c9a32" stroke-width="1"/>
<rect x="615" y="368.7" width="5" height="4.600000000000023" fill="#0c9a32"/>
<line x1="624.5" y1="358.7" x2="624.5" y2="370.3" stroke="#ef2b00" stroke-width="1"/>
<rect x="623.5" y="363.1" width="4" height="4.399999999999977" fill="#fff" stroke="#ef2b00" stroke-width="1"/>
<line x1="624.5" y1="358.7" x2="624.5" y2="362.6" stroke="#ef2b00" stroke-width="1"/>
<line x1="632.5" y1="359.5" x2="632.5" y2="364.9" stroke="#0c9a32" stroke-width="1"/>
<rect x="630" y="362.6" width="5" height="1.5" fill="#0c9a32"/>
<line x1="639.5" y1="354.1" x2="639.5" y2="364.1" stroke="#ef2b00" stroke-width="1"/>
<rect x="638.5" y="360.0" width="4" height="2.8999999999999773" fill="#fff" stroke="#ef2b00" stroke-width="1"/>
<line x1="639.5" y1="354.1" x2="639.5" y2="359.5" stroke="#ef2b00" stroke-width="1"/>
<line x1="647.5" y1="356.4" x2="647.5" y2="366.4" stroke="#ef2b00" stroke-width="1"/>
<rect x="645.5" y="356.9" width="4" height="4.400000000000034" fill="#fff" stroke="#ef2b00" stroke-width="1"/>
<line x1="654.5" y1="347.2" x2="654.5" y2="354.9" stroke="#ef2b00" stroke-width="1"/>
<rect x="653.5" y="347.7" width="4" height="5.900000000000034" fill="#fff" stroke="#ef2b00" stroke-width="1"/>
<line x1="662.5" y1="349.5" x2="662.5" y2="356.4" stroke="#0c9a32" stroke-width="1"/>
<rect x="660" y="350.3" width="5" height="3.8000000000000114" fill="#0c9a32"/>
<line x1="669.5" y1="352.6" x2="669.5" y2="362.6" stroke="#0c9a32" stroke-width="1"/>
<rect x="668" y="354.1" width="5" height="5.399999999999977" fill="#0c9a32"/>
<line x1="677.5" y1="357.2" x2="677.5" y2="365.7" stroke="#0c9a32" stroke-width="1"/>
<rect x="675" y="358.0" width="5" height="3.0" fill="#0c9a32"/>
<line x1="684.5" y1="350.3" x2="684.5" y2="364.1" stroke="#ef2b00" stroke-width="1"/>
<rect x="683.5" y="352.3" width="4" height="8.199999999999989" fill="#fff" stroke="#ef2b00" stroke-width="1"/>
<line x1="684.5" y1="350.3" x2="684.5" y2="351.8" stroke="#ef2b00" stroke-width="1"/>
<line x1="692.5" y1="341.9" x2="692.5" y2="350.3" stroke="#ef2b00" stroke-width="1"/>
<rect x="690.5" y="345.5" width="4" height="3.3999999999999773" fill="#fff" stroke="#ef2b00" stroke-width="1"/>
<line x1="692.5" y1="341.9" x2="692.5" y2="345.0" stroke="#ef2b00" stroke-width="1"/>
<line x1="699.5" y1="345.5" x2="699.5" y2="351.2" stroke="#0c9a32" stroke-width="1"/>
<rect x="698" y="347.8" width="5" height="2.0" fill="#0c9a32"/>
<line x1="707.5" y1="350.1" x2="707.5" y2="360.4" stroke="#0c9a32" stroke-width="1"/>
<rect x="705" y="351.6" width="5" height="1.5" fill="#0c9a32"/>
<line x1="714.5" y1="351.6" x2="714.5" y2="364.1" stroke="#0c9a32" stroke-width="1"/>
<rect x="713" y="354.5" width="5" height="6.699999999999989" fill="#0c9a32"/>
<line x1="722.5" y1="354.5" x2="722.5" y2="368.6" stroke="#ef2b00" stroke-width="1"/>
<rect x="720.5" y="356.5" width="4" height="5.699999999999989" fill="#fff" stroke="#ef2b00" stroke-width="1"/>
<line x1="722.5" y1="354.5" x2="722.5" y2="356.0" stroke="#ef2b00" stroke-width="1"/>
<line x1="729.5" y1="356.0" x2="729.5" y2="364.1" stroke="#ef2b00" stroke-width="1"/>
<rect x="728" y="362.7" width="5" height="1.5" fill="#ef2b00"/>
<line x1="737.5" y1="364.9" x2="737.5" y2="378.9" stroke="#0c9a32" stroke-width="1"/>
<rect x="735" y="364.9" width="5" height="11.800000000000011" fill="#0c9a32"/>
<line x1="744.5" y1="360.4" x2="744.5" y2="378.1" stroke="#ef2b00" stroke-width="1"/>
<rect x="743.5" y="363.2" width="4" height="14.400000000000034" fill="#fff" stroke="#ef2b00" stroke-width="1"/>
<line x1="744.5" y1="360.4" x2="744.5" y2="362.7" stroke="#ef2b00" stroke-width="1"/>
<line x1="752.5" y1="356.8" x2="752.5" y2="366.3" stroke="#ef2b00" stroke-width="1"/>
<rect x="750.5" y="360.9" width="4" height="4.2000000000000455" fill="#fff" stroke="#ef2b00" stroke-width="1"/>
<line x1="752.5" y1="356.8" x2="752.5" y2="360.4" stroke="#ef2b00" stroke-width="1"/>
<line x1="759.5" y1="351.6" x2="759.5" y2="360.4" stroke="#ef2b00" stroke-width="1"/>
<rect x="758.5" y="355.8" width="4" height="2.6999999999999886" fill="#fff" stroke="#ef2b00" stroke-width="1"/>
<line x1="759.5" y1="351.6" x2="759.5" y2="355.3" stroke="#ef2b00" stroke-width="1"/>
<line x1="767.5" y1="346.4" x2="767.5" y2="353.0" stroke="#ef2b00" stroke-width="1"/>
<rect x="765.5" y="348.4" width="4" height="3.400000000000034" fill="#fff" stroke="#ef2b00" stroke-width="1"/>
<line x1="767.5" y1="346.4" x2="767.5" y2="347.9" stroke="#ef2b00" stroke-width="1"/>
<line x1="774.5" y1="340.5" x2="774.5" y2="347.9" stroke="#ef2b00" stroke-width="1"/>
<rect x="773" y="346.4" width="5" height="1.5" fill="#ef2b00"/>
<line x1="782.5" y1="338.3" x2="782.5" y2="347.9" stroke="#ef2b00" stroke-width="1"/>
<rect x="780.5" y="341.0" width="4" height="4.899999999999977" fill="#fff" stroke="#ef2b00" stroke-width="1"/>
<line x1="782.5" y1="338.3" x2="782.5" y2="340.5" stroke="#ef2b00" stroke-width="1"/>
<line x1="789.5" y1="333.2" x2="789.5" y2="341.3" stroke="#ef2b00" stroke-width="1"/>
<rect x="788.5" y="334.4" width="4" height="5.600000000000023" fill="#fff" stroke="#ef2b00" stroke-width="1"/>
<line x1="789.5" y1="333.2" x2="789.5" y2="333.9" stroke="#ef2b00" stroke-width="1"/>
<line x1="797.5" y1="328.0" x2="797.5" y2="337.6" stroke="#ef2b00" stroke-width="1"/>
<rect x="795" y="332.4" width="5" height="2.2000000000000455" fill="#ef2b00"/>
<polyline points="9.9,507.5 24.7,504.5 39.4,499.6 64.0,495.7 83.6,491.7 103.3,488.8 123.0,484.9 142.6,480.9 164.2,473.1 196.9,463.2 233.7,452.1 257.9,443.6 300.0,430.0 339.3,420.1 378.6,408.3 417.9,396.5 445.0,391.0 452.5,389.5 460.0,387.7 467.5,385.5 475.0,383.4 482.5,381.2 490.0,379.3 497.5,377.2 505.0,375.0 512.5,373.0 520.0,371.0 527.5,369.1 535.0,367.1 542.5,365.1 550.0,363.2 557.5,361.4 565.0,359.6 572.5,357.8 580.0,356.4 587.5,355.2 595.0,354.0 602.5,353.1 610.0,352.8 617.5,352.8 625.0,352.8 632.5,352.9 640.0,352.5 647.5,352.2 655.0,351.9 662.5,351.8 670.0,351.7 677.5,351.4 685.0,350.7 692.5,350.1 700.0,349.7 707.5,349.2 715.0,348.9 722.5,348.8 730.0,348.8 737.5,349.0 745.0,349.0 752.5,349.0 760.0,348.6 767.5,348.1 775.0,347.6 782.5,347.0 790.0,346.4 797.5,345.9" fill="none" stroke="#45c890" stroke-width="1.8" stroke-linejoin="round"/>
<polyline points="9.9,490.8 24.7,485.8 44.3,479.0 64.0,472.0 83.6,466.2 103.3,461.3 123.0,456.4 142.6,449.5 164.2,441.6 196.9,430.0 215.0,421.0 227.5,413.9 235.0,412.2 242.5,409.8 250.0,407.4 257.5,405.3 265.0,403.2 272.5,400.0 280.0,396.6 287.5,393.6 295.0,391.0 302.5,388.4 310.0,386.4 317.5,384.5 325.0,382.6 332.5,380.9 340.0,379.1 347.5,377.1 355.0,375.7 362.5,374.3 370.0,372.6 377.5,370.8 385.0,369.4 392.5,368.7 400.0,368.9 407.5,368.5 415.0,367.3 422.5,367.3 430.0,367.3 437.5,366.9 445.0,366.3 452.5,365.1 460.0,363.1 467.5,361.2 475.0,359.4 482.5,357.2 490.0,355.3 497.5,354.5 505.0,353.4 512.5,352.3 520.0,351.1 527.5,349.7 535.0,347.9 542.5,345.8 550.0,343.9 557.5,341.9 565.0,340.0 572.5,338.6 580.0,337.0 587.5,336.2 595.0,335.5 602.5,335.5 610.0,336.2 617.5,336.8 625.0,336.7 632.5,337.2 640.0,337.7 647.5,337.1 655.0,336.5 662.5,336.7 670.0,337.2 677.5,337.7 685.0,338.2 692.5,339.0 700.0,339.9 707.5,341.1 715.0,342.4 722.5,343.1 730.0,344.3 737.5,345.7 745.0,346.9 752.5,348.2 760.0,349.4 767.5,350.5 775.0,351.4 782.5,352.1 790.0,352.9 797.5,353.2" fill="none" stroke="#fb6842" stroke-width="1.8" stroke-linejoin="round"/>
<polyline points="9.9,478.0 24.7,472.0 39.4,468.2 54.1,466.2 64.0,464.2 83.6,457.3 103.3,451.4 123.0,445.6 142.6,437.7 152.5,435.0 160.0,432.4 167.5,428.7 175.0,424.1 182.5,420.0 190.0,417.1 197.5,412.7 205.0,407.9 212.5,403.1 220.0,399.3 227.5,396.4 235.0,394.3 242.5,391.5 250.0,388.7 257.5,386.4 265.0,384.3 272.5,380.9 280.0,378.2 287.5,376.0 295.0,373.8 302.5,372.0 310.0,371.1 317.5,371.2 325.0,372.1 332.5,372.9 340.0,372.1 347.5,372.0 355.0,372.4 362.5,372.7 370.0,372.3 377.5,370.3 385.0,368.2 392.5,367.1 400.0,366.4 407.5,364.8 415.0,363.1 422.5,363.8 430.0,364.0 437.5,363.1 445.0,362.2 452.5,361.4 460.0,359.5 467.5,356.6 475.0,354.0 482.5,350.8 490.0,348.6 497.5,347.0 505.0,344.6 512.5,343.1 520.0,341.6 527.5,340.4 535.0,338.8 542.5,336.8 550.0,334.5 557.5,333.0 565.0,331.2 572.5,328.8 580.0,327.0 587.5,326.6 595.0,326.1 602.5,325.9 610.0,327.8 617.5,330.4 625.0,332.4 632.5,334.8 640.0,336.6 647.5,337.7 655.0,338.7 662.5,339.7 670.0,341.3 677.5,343.4 685.0,344.9 692.5,346.4 700.0,348.0 707.5,349.7 715.0,352.2 722.5,353.8 730.0,355.5 737.5,357.4 745.0,358.7 752.5,359.6 760.0,358.6 767.5,357.3 775.0,356.5 782.5,355.4 790.0,354.1 797.5,352.9" fill="none" stroke="#e13ccf" stroke-width="1.8" stroke-linejoin="round"/>
<polyline points="9.9,467.2 24.7,462.3 44.3,453.4 54.1,451.4 64.0,451.4 73.8,449.5 77.5,448.9 85.0,447.8 92.5,446.4 100.0,444.8 107.5,443.0 115.0,440.9 122.5,438.0 130.0,433.4 137.5,428.8 145.0,425.4 152.5,421.1 160.0,416.9 167.5,410.9 175.0,403.4 182.5,396.9 190.0,393.2 197.5,387.4 205.0,382.3 212.5,377.5 220.0,373.1 227.5,371.6 235.0,371.8 242.5,372.1 250.0,374.0 257.5,375.9 265.0,375.5 272.5,374.5 280.0,374.0 287.5,374.5 295.0,374.4 302.5,372.4 310.0,370.4 317.5,370.3 325.0,370.3 332.5,370.0 340.0,368.7 347.5,369.5 355.0,370.8 362.5,370.9 370.0,370.1 377.5,368.2 385.0,366.1 392.5,363.8 400.0,362.6 407.5,359.6 415.0,357.5 422.5,358.1 430.0,357.1 437.5,355.3 445.0,354.2 452.5,354.6 460.0,352.9 467.5,349.5 475.0,345.4 482.5,342.0 490.0,339.8 497.5,335.9 505.0,332.1 512.5,330.8 520.0,328.9 527.5,326.2 535.0,324.8 542.5,324.1 550.0,323.6 557.5,324.0 565.0,322.7 572.5,321.6 580.0,321.8 587.5,322.4 595.0,323.2 602.5,325.6 610.0,330.9 617.5,336.7 625.0,341.1 632.5,345.6 640.0,350.5 647.5,353.7 655.0,355.5 662.5,357.0 670.0,359.3 677.5,361.2 685.0,358.9 692.5,356.1 700.0,354.8 707.5,353.7 715.0,353.9 722.5,353.9 730.0,355.4 737.5,357.7 745.0,358.0 752.5,357.9 760.0,358.3 767.5,358.6 775.0,358.2 782.5,357.0 790.0,354.2 797.5,351.9" fill="none" stroke="#2d7bd6" stroke-width="1.8" stroke-linejoin="round"/>
<polyline points="9.9,456.4 24.7,451.4 39.4,447.5 40.0,446.7 47.5,448.8 55.0,451.5 62.5,452.5 70.0,452.0 77.5,451.1 85.0,446.8 92.5,441.4 100.0,437.1 107.5,434.0 115.0,430.8 122.5,429.2 130.0,425.4 137.5,420.5 145.0,416.9 152.5,411.5 160.0,404.6 167.5,396.5 175.0,386.3 182.5,377.0 190.0,374.8 197.5,370.2 205.0,368.2 212.5,368.7 220.0,369.3 227.5,368.5 235.0,373.3 242.5,376.0 250.0,379.3 257.5,382.6 265.0,382.5 272.5,375.6 280.0,371.9 287.5,369.7 295.0,366.3 302.5,362.3 310.0,365.2 317.5,368.7 325.0,370.9 332.5,373.7 340.0,375.2 347.5,373.8 355.0,372.8 362.5,370.8 370.0,366.5 377.5,361.3 385.0,358.4 392.5,354.7 400.0,354.4 407.5,352.7 415.0,353.8 422.5,357.8 430.0,359.6 437.5,356.3 445.0,355.8 452.5,355.5 460.0,348.1 467.5,339.3 475.0,334.6 482.5,328.2 490.0,324.0 497.5,323.8 505.0,325.0 512.5,327.0 520.0,329.6 527.5,328.5 535.0,325.7 542.5,323.3 550.0,320.3 557.5,318.5 565.0,317.0 572.5,317.6 580.0,320.4 587.5,324.4 595.0,328.0 602.5,334.3 610.0,344.2 617.5,353.1 625.0,357.8 632.5,363.3 640.0,366.7 647.5,363.2 655.0,358.0 662.5,356.3 670.0,355.3 677.5,355.6 685.0,354.7 692.5,354.3 700.0,353.4 707.5,352.1 715.0,352.2 722.5,353.0 730.0,356.5 737.5,361.9 745.0,363.9 752.5,363.7 760.0,363.6 767.5,360.6 775.0,354.5 782.5,350.1 790.0,344.8 797.5,340.2" fill="none" stroke="#f99016" stroke-width="1.8" stroke-linejoin="round"/>
<line x1="553" y1="310" x2="573" y2="310" stroke="#666" stroke-width="1"/>
<text x="500" y="313.6" font-size="15.5" fill="#777" font-weight="normal" font-family="'Liberation Sans',sans-serif" text-anchor="start" textLength="52.5" lengthAdjust="spacingAndGlyphs">4034.08</text>
<line x1="62" y1="465.5" x2="83" y2="465.5" stroke="#666" stroke-width="1"/>
<text x="83" y="469" font-size="15.5" fill="#777" font-weight="normal" font-family="'Liberation Sans',sans-serif" text-anchor="start" textLength="52.5" lengthAdjust="spacingAndGlyphs">3547.16</text>
<rect x="8" y="515" width="800" height="27" fill="#f7f7f7"/>
<text x="8.5" y="532.6" font-size="14" fill="#6a6a6a" font-weight="normal" font-family="'Liberation Sans',sans-serif" text-anchor="start" textLength="100" lengthAdjust="spacingAndGlyphs">成交量 5.55亿手</text>
<text x="124.6" y="532.6" font-size="14" fill="#f99016" font-weight="normal" font-family="'Liberation Sans',sans-serif" text-anchor="start" textLength="88.5" lengthAdjust="spacingAndGlyphs">MA5:5.09亿手</text>
<text x="221.4" y="532.6" font-size="14" fill="#2d7bd6" font-weight="normal" font-family="'Liberation Sans',sans-serif" text-anchor="start" textLength="97" lengthAdjust="spacingAndGlyphs">MA10:5.04亿手</text>
<circle cx="794.5" cy="528.2" r="7.4" fill="#e8e8e8"/><path d="M791.5 525.2 l6 6 M797.5 525.2 l-6 6" stroke="#666" stroke-width="1.4"/>
<line x1="8" y1="573.5" x2="808" y2="573.5" stroke="#f2f2f2" stroke-width="1"/>
<path d="M8.5 606.5 V550.5 H11.5 V606.5" fill="none" stroke="#ef2b00" stroke-width="1"/>
<rect x="15" y="556" width="4" height="50" fill="#0c9a32"/>
<path d="M23.5 606.5 V564.5 H26.5 V606.5" fill="none" stroke="#ef2b00" stroke-width="1"/>
<path d="M30.5 606.5 V562.5 H33.5 V606.5" fill="none" stroke="#ef2b00" stroke-width="1"/>
<path d="M38.5 606.5 V561.5 H41.5 V606.5" fill="none" stroke="#ef2b00" stroke-width="1"/>
<rect x="45" y="560" width="4" height="46" fill="#0c9a32"/>
<rect x="53" y="570" width="4" height="36" fill="#0c9a32"/>
<path d="M60.5 606.5 V574.5 H63.5 V606.5" fill="none" stroke="#ef2b00" stroke-width="1"/>
<path d="M68.5 606.5 V571.5 H71.5 V606.5" fill="none" stroke="#ef2b00" stroke-width="1"/>
<path d="M75.5 606.5 V570.5 H78.5 V606.5" fill="none" stroke="#ef2b00" stroke-width="1"/>
<path d="M83.5 606.5 V569.5 H86.5 V606.5" fill="none" stroke="#ef2b00" stroke-width="1"/>
<path d="M90.5 606.5 V569.5 H93.5 V606.5" fill="none" stroke="#ef2b00" stroke-width="1"/>
<path d="M98.5 606.5 V567.5 H101.5 V606.5" fill="none" stroke="#ef2b00" stroke-width="1"/>
<path d="M105.5 606.5 V569.5 H108.5 V606.5" fill="none" stroke="#ef2b00" stroke-width="1"/>
<path d="M113.5 606.5 V562.5 H116.5 V606.5" fill="none" stroke="#ef2b00" stroke-width="1"/>
<rect x="120" y="560" width="4" height="46" fill="#0c9a32"/>
<path d="M128.5 606.5 V559.5 H131.5 V606.5" fill="none" stroke="#ef2b00" stroke-width="1"/>
<path d="M135.5 606.5 V550.5 H138.5 V606.5" fill="none" stroke="#ef2b00" stroke-width="1"/>
<rect x="143" y="557" width="4" height="49" fill="#0c9a32"/>
<path d="M150.5 606.5 V556.5 H153.5 V606.5" fill="none" stroke="#ef2b00" stroke-width="1"/>
<path d="M158.5 606.5 V557.5 H161.5 V606.5" fill="none" stroke="#ef2b00" stroke-width="1"/>
<path d="M165.5 606.5 V556.5 H168.5 V606.5" fill="none" stroke="#ef2b00" stroke-width="1"/>
<path d="M173.5 606.5 V544.5 H176.5 V606.5" fill="none" stroke="#ef2b00" stroke-width="1"/>
<rect x="180" y="554" width="4" height="52" fill="#0c9a32"/>
<rect x="188" y="545" width="4" height="61" fill="#0c9a32"/>
<path d="M195.5 606.5 V550.5 H198.5 V606.5" fill="none" stroke="#ef2b00" stroke-width="1"/>
<path d="M203.5 606.5 V554.5 H206.5 V606.5" fill="none" stroke="#ef2b00" stroke-width="1"/>
<path d="M210.5 606.5 V554.5 H213.5 V606.5" fill="none" stroke="#ef2b00" stroke-width="1"/>
<rect x="218" y="551" width="4" height="55" fill="#0c9a32"/>
<rect x="225" y="560" width="4" height="46" fill="#0c9a32"/>
<rect x="233" y="556" width="4" height="50" fill="#0c9a32"/>
<path d="M240.5 606.5 V562.5 H243.5 V606.5" fill="none" stroke="#ef2b00" stroke-width="1"/>
<path d="M248.5 606.5 V560.5 H251.5 V606.5" fill="none" stroke="#ef2b00" stroke-width="1"/>
<rect x="255" y="564" width="4" height="42" fill="#0c9a32"/>
<path d="M263.5 606.5 V569.5 H266.5 V606.5" fill="none" stroke="#ef2b00" stroke-width="1"/>
<path d="M270.5 606.5 V562.5 H273.5 V606.5" fill="none" stroke="#ef2b00" stroke-width="1"/>
<rect x="278" y="556" width="4" height="50" fill="#0c9a32"/>
<rect x="285" y="561" width="4" height="45" fill="#0c9a32"/>
<rect x="293" y="559" width="4" height="47" fill="#0c9a32"/>
<path d="M300.5 606.5 V560.5 H303.5 V606.5" fill="none" stroke="#ef2b00" stroke-width="1"/>
<rect x="308" y="544" width="4" height="62" fill="#0c9a32"/>
<rect x="315" y="557" width="4" height="49" fill="#0c9a32"/>
<path d="M323.5 606.5 V566.5 H326.5 V606.5" fill="none" stroke="#ef2b00" stroke-width="1"/>
<rect x="330" y="557" width="4" height="49" fill="#0c9a32"/>
<path d="M338.5 606.5 V564.5 H341.5 V606.5" fill="none" stroke="#ef2b00" stroke-width="1"/>
<path d="M345.5 606.5 V564.5 H348.5 V606.5" fill="none" stroke="#ef2b00" stroke-width="1"/>
<rect x="353" y="567" width="4" height="39" fill="#0c9a32"/>
<path d="M360.5 606.5 V564.5 H363.5 V606.5" fill="none" stroke="#ef2b00" stroke-width="1"/>
<path d="M368.5 606.5 V566.5 H371.5 V606.5" fill="none" stroke="#ef2b00" stroke-width="1"/>
<path d="M375.5 606.5 V554.5 H378.5 V606.5" fill="none" stroke="#ef2b00" stroke-width="1"/>
<rect x="383" y="554" width="4" height="52" fill="#0c9a32"/>
<path d="M390.5 606.5 V556.5 H393.5 V606.5" fill="none" stroke="#ef2b00" stroke-width="1"/>
<rect x="398" y="550" width="4" height="56" fill="#0c9a32"/>
<path d="M405.5 606.5 V559.5 H408.5 V606.5" fill="none" stroke="#ef2b00" stroke-width="1"/>
<path d="M413.5 606.5 V564.5 H416.5 V606.5" fill="none" stroke="#ef2b00" stroke-width="1"/>
<rect x="420" y="561" width="4" height="45" fill="#0c9a32"/>
<rect x="428" y="567" width="4" height="39" fill="#0c9a32"/>
<path d="M435.5 606.5 V564.5 H438.5 V606.5" fill="none" stroke="#ef2b00" stroke-width="1"/>
<path d="M443.5 606.5 V567.5 H446.5 V606.5" fill="none" stroke="#ef2b00" stroke-width="1"/>
<path d="M450.5 606.5 V566.5 H453.5 V606.5" fill="none" stroke="#ef2b00" stroke-width="1"/>
<path d="M458.5 606.5 V566.5 H461.5 V606.5" fill="none" stroke="#ef2b00" stroke-width="1"/>
<path d="M465.5 606.5 V561.5 H468.5 V606.5" fill="none" stroke="#ef2b00" stroke-width="1"/>
<path d="M473.5 606.5 V565.5 H476.5 V606.5" fill="none" stroke="#ef2b00" stroke-width="1"/>
<path d="M480.5 606.5 V561.5 H483.5 V606.5" fill="none" stroke="#ef2b00" stroke-width="1"/>
<rect x="488" y="559" width="4" height="47" fill="#0c9a32"/>
<rect x="495" y="558" width="4" height="48" fill="#0c9a32"/>
<path d="M503.5 606.5 V560.5 H506.5 V606.5" fill="none" stroke="#ef2b00" stroke-width="1"/>
<rect x="510" y="562" width="4" height="44" fill="#0c9a32"/>
<path d="M518.5 606.5 V562.5 H521.5 V606.5" fill="none" stroke="#ef2b00" stroke-width="1"/>
<path d="M525.5 606.5 V562.5 H528.5 V606.5" fill="none" stroke="#ef2b00" stroke-width="1"/>
<path d="M533.5 606.5 V564.5 H536.5 V606.5" fill="none" stroke="#ef2b00" stroke-width="1"/>
<path d="M540.5 606.5 V561.5 H543.5 V606.5" fill="none" stroke="#ef2b00" stroke-width="1"/>
<rect x="548" y="564" width="4" height="42" fill="#0c9a32"/>
<path d="M555.5 606.5 V565.5 H558.5 V606.5" fill="none" stroke="#ef2b00" stroke-width="1"/>
<path d="M563.5 606.5 V562.5 H566.5 V606.5" fill="none" stroke="#ef2b00" stroke-width="1"/>
<rect x="570" y="562" width="4" height="44" fill="#0c9a32"/>
<rect x="578" y="564" width="4" height="42" fill="#0c9a32"/>
<rect x="585" y="563" width="4" height="43" fill="#0c9a32"/>
<path d="M593.5 606.5 V569.5 H596.5 V606.5" fill="none" stroke="#ef2b00" stroke-width="1"/>
<rect x="600" y="569" width="4" height="37" fill="#0c9a32"/>
<rect x="608" y="560" width="4" height="46" fill="#0c9a32"/>
<rect x="615" y="570" width="4" height="36" fill="#0c9a32"/>
<path d="M623.5 606.5 V572.5 H626.5 V606.5" fill="none" stroke="#ef2b00" stroke-width="1"/>
<rect x="630" y="573" width="4" height="33" fill="#0c9a32"/>
<path d="M638.5 606.5 V575.5 H641.5 V606.5" fill="none" stroke="#ef2b00" stroke-width="1"/>
<path d="M645.5 606.5 V575.5 H648.5 V606.5" fill="none" stroke="#ef2b00" stroke-width="1"/>
<path d="M653.5 606.5 V569.5 H656.5 V606.5" fill="none" stroke="#ef2b00" stroke-width="1"/>
<rect x="660" y="574" width="4" height="32" fill="#0c9a32"/>
<rect x="668" y="571" width="4" height="35" fill="#0c9a32"/>
<rect x="675" y="575" width="4" height="31" fill="#0c9a32"/>
<path d="M683.5 606.5 V571.5 H686.5 V606.5" fill="none" stroke="#ef2b00" stroke-width="1"/>
<path d="M690.5 606.5 V567.5 H693.5 V606.5" fill="none" stroke="#ef2b00" stroke-width="1"/>
<rect x="698" y="568" width="4" height="38" fill="#0c9a32"/>
<rect x="705" y="571" width="4" height="35" fill="#0c9a32"/>
<rect x="713" y="569" width="4" height="37" fill="#0c9a32"/>
<path d="M720.5 606.5 V566.5 H723.5 V606.5" fill="none" stroke="#ef2b00" stroke-width="1"/>
<path d="M728.5 606.5 V571.5 H731.5 V606.5" fill="none" stroke="#ef2b00" stroke-width="1"/>
<rect x="735" y="569" width="4" height="37" fill="#0c9a32"/>
<path d="M743.5 606.5 V570.5 H746.5 V606.5" fill="none" stroke="#ef2b00" stroke-width="1"/>
<path d="M750.5 606.5 V574.5 H753.5 V606.5" fill="none" stroke="#ef2b00" stroke-width="1"/>
<path d="M758.5 606.5 V570.5 H761.5 V606.5" fill="none" stroke="#ef2b00" stroke-width="1"/>
<path d="M765.5 606.5 V569.5 H768.5 V606.5" fill="none" stroke="#ef2b00" stroke-width="1"/>
<path d="M773.5 606.5 V570.5 H776.5 V606.5" fill="none" stroke="#ef2b00" stroke-width="1"/>
<path d="M780.5 606.5 V572.5 H783.5 V606.5" fill="none" stroke="#ef2b00" stroke-width="1"/>
<path d="M788.5 606.5 V574.5 H791.5 V606.5" fill="none" stroke="#ef2b00" stroke-width="1"/>
<path d="M795.5 606.5 V567.5 H798.5 V606.5" fill="none" stroke="#ef2b00" stroke-width="1"/>
<text x="8.5" y="552.3" font-size="15" fill="#777" font-weight="normal" font-family="'Liberation Sans',sans-serif" text-anchor="start" textLength="41.5" lengthAdjust="spacingAndGlyphs">8.85亿</text>
<text x="8.5" y="577" font-size="15" fill="#777" font-weight="normal" font-family="'Liberation Sans',sans-serif" text-anchor="start" textLength="41.5" lengthAdjust="spacingAndGlyphs">4.43亿</text>
<text x="8.5" y="602" font-size="15" fill="#777" font-weight="normal" font-family="'Liberation Sans',sans-serif" text-anchor="start" textLength="27" lengthAdjust="spacingAndGlyphs">0.00</text>
<polyline points="10.9,560.9 34.5,560.9 49.2,558.3 64.0,560.1 77.5,563.7 85.0,565.6 92.5,566.9 100.0,567.1 107.5,567.9 115.0,567.9 122.5,567.9 130.0,566.8 137.5,564.5 145.0,563.1 152.5,561.8 160.0,560.5 167.5,559.2 175.0,556.9 182.5,555.4 190.0,553.7 197.5,552.7 205.0,552.2 212.5,552.5 220.0,551.9 227.5,552.2 235.0,552.1 242.5,552.7 250.0,554.3 257.5,555.3 265.0,557.7 272.5,559.0 280.0,559.2 287.5,559.9 295.0,560.8 302.5,560.8 310.0,559.6 317.5,559.1 325.0,559.7 332.5,559.0 340.0,558.5 347.5,558.7 355.0,559.8 362.5,560.1 370.0,560.7 377.5,560.2 385.0,561.3 392.5,561.2 400.0,559.6 407.5,559.8 415.0,559.8 422.5,559.5 430.0,559.5 437.5,559.5 445.0,559.6 452.5,560.7 460.0,561.8 467.5,562.4 475.0,563.9 482.5,564.1 490.0,563.5 497.5,563.2 505.0,562.6 512.5,562.4 520.0,561.9 527.5,561.5 535.0,561.3 542.5,561.4 550.0,561.3 557.5,561.7 565.0,562.1 572.5,562.5 580.0,562.9 587.5,563.0 595.0,563.7 602.5,564.4 610.0,564.1 617.5,565.0 625.0,565.7 632.5,566.6 640.0,567.8 647.5,569.1 655.0,569.5 662.5,570.5 670.0,570.8 677.5,571.4 685.0,572.5 692.5,572.1 700.0,571.7 707.5,571.5 715.0,570.9 722.5,570.0 730.0,570.2 737.5,569.8 745.0,569.6 752.5,569.6 760.0,569.4 767.5,569.7 775.0,569.8 782.5,570.0 790.0,570.4 797.5,570.5" fill="none" stroke="#2d7bd6" stroke-width="1.5"/>
<polyline points="10.9,557.2 19.7,554.2 34.5,556.4 40.0,558.6 47.5,560.5 55.0,563.2 62.5,565.1 70.0,567.0 77.5,568.7 85.0,570.6 92.5,570.5 100.0,569.1 107.5,568.7 115.0,567.1 122.5,565.2 130.0,563.1 137.5,559.8 145.0,557.5 152.5,556.4 160.0,555.9 167.5,555.3 175.0,553.9 182.5,553.4 190.0,551.0 197.5,549.5 205.0,549.1 212.5,551.1 220.0,550.4 227.5,553.5 235.0,554.7 242.5,556.3 250.0,557.6 257.5,560.1 265.0,561.9 272.5,563.2 280.0,562.1 287.5,562.3 295.0,561.4 302.5,559.6 310.0,555.9 317.5,556.1 325.0,557.1 332.5,556.6 340.0,557.4 347.5,561.6 355.0,563.5 362.5,563.1 370.0,564.9 377.5,563.0 385.0,561.0 392.5,558.8 400.0,556.0 407.5,554.7 415.0,556.6 422.5,557.9 430.0,560.1 437.5,563.0 445.0,564.5 452.5,564.8 460.0,565.7 467.5,564.6 475.0,564.8 482.5,563.7 490.0,562.3 497.5,560.8 505.0,560.6 512.5,560.1 520.0,560.2 527.5,560.8 535.0,561.9 542.5,562.1 550.0,562.6 557.5,563.2 565.0,563.3 572.5,563.0 580.0,563.7 587.5,563.5 595.0,564.2 602.5,565.5 610.0,565.1 617.5,566.3 625.0,568.0 632.5,569.0 640.0,570.1 647.5,573.0 655.0,572.7 662.5,573.1 670.0,572.6 677.5,572.6 685.0,571.9 692.5,571.5 700.0,570.4 707.5,570.3 715.0,569.2 722.5,568.2 730.0,569.0 737.5,569.1 745.0,569.0 752.5,569.9 760.0,570.7 767.5,570.4 775.0,570.5 782.5,570.9 790.0,570.9 797.5,570.3" fill="none" stroke="#f79a1e" stroke-width="1.5"/>
<rect x="8" y="606" width="800" height="25.4" fill="#f7f7f7"/>
<text x="8.4" y="621.5" font-size="14" fill="#727272" font-weight="normal" font-family="'Liberation Sans',sans-serif" text-anchor="start" textLength="102" lengthAdjust="spacingAndGlyphs">MACD (12,26,9)</text>
<text x="127.4" y="621.5" font-size="14" fill="#f99016" font-weight="normal" font-family="'Liberation Sans',sans-serif" text-anchor="start" textLength="52" lengthAdjust="spacingAndGlyphs">DIF:7.30</text>
<text x="185.9" y="621.5" font-size="14" fill="#2d7bd6" font-weight="normal" font-family="'Liberation Sans',sans-serif" text-anchor="start" textLength="63.5" lengthAdjust="spacingAndGlyphs">DEA:-4.05</text>
<text x="256.9" y="621.5" font-size="14" fill="#e8330f" font-weight="normal" font-family="'Liberation Sans',sans-serif" text-anchor="start" textLength="80.5" lengthAdjust="spacingAndGlyphs">MACD:22.69</text>
<circle cx="794.5" cy="616.4" r="7.4" fill="#e8e8e8"/><path d="M791.5 613.4 l6 6 M797.5 613.4 l-6 6" stroke="#666" stroke-width="1.4"/>
<line x1="8" y1="662.8" x2="808" y2="662.8" stroke="#f2f2f2" stroke-width="1"/>
<line x1="8" y1="694" x2="808" y2="694" stroke="#f2f2f2" stroke-width="1"/>
<line x1="9.5" y1="663.7" x2="9.5" y2="670.8" stroke="#ef2b00" stroke-width="1.2"/>
<line x1="17.5" y1="664.4" x2="17.5" y2="670.8" stroke="#ef2b00" stroke-width="1.2"/>
<line x1="24.5" y1="665.2" x2="24.5" y2="670.8" stroke="#ef2b00" stroke-width="1.2"/>
<line x1="32.5" y1="665.9" x2="32.5" y2="670.8" stroke="#ef2b00" stroke-width="1.2"/>
<line x1="39.5" y1="666.2" x2="39.5" y2="670.8" stroke="#ef2b00" stroke-width="1.2"/>
<line x1="47.5" y1="670.0" x2="47.5" y2="670.8" stroke="#ef2b00" stroke-width="1.2"/>
<line x1="54.5" y1="670.8" x2="54.5" y2="673.6" stroke="#0c9a32" stroke-width="1.2"/>
<line x1="62.5" y1="670.8" x2="62.5" y2="675.0" stroke="#0c9a32" stroke-width="1.2"/>
<line x1="69.5" y1="670.8" x2="69.5" y2="673.6" stroke="#0c9a32" stroke-width="1.2"/>
<line x1="99.5" y1="670.0" x2="99.5" y2="670.8" stroke="#ef2b00" stroke-width="1.2"/>
<line x1="107.5" y1="668.6" x2="107.5" y2="670.8" stroke="#ef2b00" stroke-width="1.2"/>
<line x1="114.5" y1="667.1" x2="114.5" y2="670.8" stroke="#ef2b00" stroke-width="1.2"/>
<line x1="122.5" y1="668.3" x2="122.5" y2="670.8" stroke="#ef2b00" stroke-width="1.2"/>
<line x1="129.5" y1="667.4" x2="129.5" y2="670.8" stroke="#ef2b00" stroke-width="1.2"/>
<line x1="137.5" y1="666.2" x2="137.5" y2="670.8" stroke="#ef2b00" stroke-width="1.2"/>
<line x1="144.5" y1="664.7" x2="144.5" y2="670.8" stroke="#ef2b00" stroke-width="1.2"/>
<line x1="152.5" y1="663.7" x2="152.5" y2="670.8" stroke="#ef2b00" stroke-width="1.2"/>
<line x1="159.5" y1="662.2" x2="159.5" y2="670.8" stroke="#ef2b00" stroke-width="1.2"/>
<line x1="167.5" y1="658.8" x2="167.5" y2="670.8" stroke="#ef2b00" stroke-width="1.2"/>
<line x1="174.5" y1="654.9" x2="174.5" y2="670.8" stroke="#ef2b00" stroke-width="1.2"/>
<line x1="182.5" y1="653.8" x2="182.5" y2="670.8" stroke="#ef2b00" stroke-width="1.2"/>
<line x1="189.5" y1="660.0" x2="189.5" y2="670.8" stroke="#ef2b00" stroke-width="1.2"/>
<line x1="197.5" y1="661.2" x2="197.5" y2="670.8" stroke="#ef2b00" stroke-width="1.2"/>
<line x1="204.5" y1="662.2" x2="204.5" y2="670.8" stroke="#ef2b00" stroke-width="1.2"/>
<line x1="212.5" y1="663.7" x2="212.5" y2="670.8" stroke="#ef2b00" stroke-width="1.2"/>
<line x1="219.5" y1="666.2" x2="219.5" y2="670.8" stroke="#ef2b00" stroke-width="1.2"/>
<line x1="234.5" y1="670.8" x2="234.5" y2="678.8" stroke="#0c9a32" stroke-width="1.2"/>
<line x1="242.5" y1="670.8" x2="242.5" y2="681.3" stroke="#0c9a32" stroke-width="1.2"/>
<line x1="249.5" y1="670.8" x2="249.5" y2="681.3" stroke="#0c9a32" stroke-width="1.2"/>
<line x1="257.5" y1="670.8" x2="257.5" y2="682.3" stroke="#0c9a32" stroke-width="1.2"/>
<line x1="264.5" y1="670.8" x2="264.5" y2="682.3" stroke="#0c9a32" stroke-width="1.2"/>
<line x1="272.5" y1="670.8" x2="272.5" y2="678.3" stroke="#0c9a32" stroke-width="1.2"/>
<line x1="279.5" y1="670.8" x2="279.5" y2="677.3" stroke="#0c9a32" stroke-width="1.2"/>
<line x1="287.5" y1="670.8" x2="287.5" y2="676.1" stroke="#0c9a32" stroke-width="1.2"/>
<line x1="294.5" y1="670.8" x2="294.5" y2="676.1" stroke="#0c9a32" stroke-width="1.2"/>
<line x1="302.5" y1="670.8" x2="302.5" y2="676.1" stroke="#0c9a32" stroke-width="1.2"/>
<line x1="309.5" y1="670.8" x2="309.5" y2="678.3" stroke="#0c9a32" stroke-width="1.2"/>
<line x1="317.5" y1="670.8" x2="317.5" y2="681.3" stroke="#0c9a32" stroke-width="1.2"/>
<line x1="324.5" y1="670.8" x2="324.5" y2="682.3" stroke="#0c9a32" stroke-width="1.2"/>
<line x1="332.5" y1="670.8" x2="332.5" y2="682.3" stroke="#0c9a32" stroke-width="1.2"/>
<line x1="339.5" y1="670.8" x2="339.5" y2="681.3" stroke="#0c9a32" stroke-width="1.2"/>
<line x1="347.5" y1="670.8" x2="347.5" y2="679.9" stroke="#0c9a32" stroke-width="1.2"/>
<line x1="354.5" y1="670.8" x2="354.5" y2="679.9" stroke="#0c9a32" stroke-width="1.2"/>
<line x1="362.5" y1="670.8" x2="362.5" y2="678.9" stroke="#0c9a32" stroke-width="1.2"/>
<line x1="369.5" y1="670.8" x2="369.5" y2="676.2" stroke="#0c9a32" stroke-width="1.2"/>
<line x1="384.5" y1="670.0" x2="384.5" y2="670.8" stroke="#ef2b00" stroke-width="1.2"/>
<line x1="399.5" y1="670.8" x2="399.5" y2="673.6" stroke="#0c9a32" stroke-width="1.2"/>
<line x1="422.5" y1="670.8" x2="422.5" y2="675.0" stroke="#0c9a32" stroke-width="1.2"/>
<line x1="429.5" y1="670.8" x2="429.5" y2="677.4" stroke="#0c9a32" stroke-width="1.2"/>
<line x1="437.5" y1="670.8" x2="437.5" y2="675.0" stroke="#0c9a32" stroke-width="1.2"/>
<line x1="444.5" y1="670.8" x2="444.5" y2="672.5" stroke="#0c9a32" stroke-width="1.2"/>
<line x1="459.5" y1="668.6" x2="459.5" y2="670.8" stroke="#ef2b00" stroke-width="1.2"/>
<line x1="467.5" y1="665.1" x2="467.5" y2="670.8" stroke="#ef2b00" stroke-width="1.2"/>
<line x1="474.5" y1="664.0" x2="474.5" y2="670.8" stroke="#ef2b00" stroke-width="1.2"/>
<line x1="482.5" y1="661.1" x2="482.5" y2="670.8" stroke="#ef2b00" stroke-width="1.2"/>
<line x1="489.5" y1="662.1" x2="489.5" y2="670.8" stroke="#ef2b00" stroke-width="1.2"/>
<line x1="497.5" y1="666.1" x2="497.5" y2="670.8" stroke="#ef2b00" stroke-width="1.2"/>
<line x1="504.5" y1="668.5" x2="504.5" y2="670.8" stroke="#ef2b00" stroke-width="1.2"/>
<line x1="519.5" y1="670.8" x2="519.5" y2="672.9" stroke="#0c9a32" stroke-width="1.2"/>
<line x1="527.5" y1="669.6" x2="527.5" y2="670.8" stroke="#ef2b00" stroke-width="1.2"/>
<line x1="542.5" y1="669.6" x2="542.5" y2="670.8" stroke="#ef2b00" stroke-width="1.2"/>
<line x1="572.5" y1="670.8" x2="572.5" y2="673.8" stroke="#0c9a32" stroke-width="1.2"/>
<line x1="579.5" y1="670.8" x2="579.5" y2="676.2" stroke="#0c9a32" stroke-width="1.2"/>
<line x1="587.5" y1="670.8" x2="587.5" y2="679.9" stroke="#0c9a32" stroke-width="1.2"/>
<line x1="594.5" y1="670.8" x2="594.5" y2="682.4" stroke="#0c9a32" stroke-width="1.2"/>
<line x1="602.5" y1="670.8" x2="602.5" y2="683.6" stroke="#0c9a32" stroke-width="1.2"/>
<line x1="609.5" y1="670.8" x2="609.5" y2="691.0" stroke="#0c9a32" stroke-width="1.2"/>
<line x1="617.5" y1="670.8" x2="617.5" y2="694.5" stroke="#0c9a32" stroke-width="1.2"/>
<line x1="624.5" y1="670.8" x2="624.5" y2="693.5" stroke="#0c9a32" stroke-width="1.2"/>
<line x1="632.5" y1="670.8" x2="632.5" y2="692.0" stroke="#0c9a32" stroke-width="1.2"/>
<line x1="639.5" y1="670.8" x2="639.5" y2="688.6" stroke="#0c9a32" stroke-width="1.2"/>
<line x1="647.5" y1="670.8" x2="647.5" y2="685.7" stroke="#0c9a32" stroke-width="1.2"/>
<line x1="654.5" y1="670.8" x2="654.5" y2="681.0" stroke="#0c9a32" stroke-width="1.2"/>
<line x1="662.5" y1="670.8" x2="662.5" y2="678.0" stroke="#0c9a32" stroke-width="1.2"/>
<line x1="669.5" y1="670.8" x2="669.5" y2="678.0" stroke="#0c9a32" stroke-width="1.2"/>
<line x1="677.5" y1="670.8" x2="677.5" y2="677.3" stroke="#0c9a32" stroke-width="1.2"/>
<line x1="684.5" y1="670.8" x2="684.5" y2="675.0" stroke="#0c9a32" stroke-width="1.2"/>
<line x1="699.5" y1="669.9" x2="699.5" y2="670.8" stroke="#ef2b00" stroke-width="1.2"/>
<line x1="707.5" y1="669.9" x2="707.5" y2="670.8" stroke="#ef2b00" stroke-width="1.2"/>
<line x1="729.5" y1="670.8" x2="729.5" y2="672.6" stroke="#0c9a32" stroke-width="1.2"/>
<line x1="737.5" y1="670.8" x2="737.5" y2="675.8" stroke="#0c9a32" stroke-width="1.2"/>
<line x1="744.5" y1="670.8" x2="744.5" y2="674.7" stroke="#0c9a32" stroke-width="1.2"/>
<line x1="752.5" y1="670.8" x2="752.5" y2="673.6" stroke="#0c9a32" stroke-width="1.2"/>
<line x1="767.5" y1="667.2" x2="767.5" y2="670.8" stroke="#ef2b00" stroke-width="1.2"/>
<line x1="774.5" y1="665.9" x2="774.5" y2="670.8" stroke="#ef2b00" stroke-width="1.2"/>
<line x1="782.5" y1="663.5" x2="782.5" y2="670.8" stroke="#ef2b00" stroke-width="1.2"/>
<line x1="789.5" y1="660.8" x2="789.5" y2="670.8" stroke="#ef2b00" stroke-width="1.2"/>
<line x1="797.5" y1="658.7" x2="797.5" y2="670.8" stroke="#ef2b00" stroke-width="1.2"/>
<text x="8.5" y="641.8" font-size="15" fill="#777" font-weight="normal" font-family="'Liberation Sans',sans-serif" text-anchor="start" textLength="35.5" lengthAdjust="spacingAndGlyphs">78.26</text>
<text x="8.5" y="665.6" font-size="15" fill="#777" font-weight="normal" font-family="'Liberation Sans',sans-serif" text-anchor="start" textLength="35.5" lengthAdjust="spacingAndGlyphs">16.33</text>
<text x="8.5" y="690.6" font-size="15" fill="#777" font-weight="normal" font-family="'Liberation Sans',sans-serif" text-anchor="start" textLength="42" lengthAdjust="spacingAndGlyphs">-45.59</text>
<polyline points="10.0,651.2 19.7,650.4 34.5,648.2 49.2,649.0 64.0,650.4 78.7,650.1 93.5,649.7 108.2,649.4 117.0,648.9 130.3,648.9 146.5,647.4 167.1,643.7 183.3,638.5 198.1,636.0 205.5,636.0 220.2,633.4 230.0,634.1 243.3,636.6 256.5,638.5 265.4,641.0 272.8,641.0 287.5,643.7 294.9,643.7 302.2,644.9 312.6,645.2 324.4,648.9 339.1,651.2 350.0,652.5 356.7,652.5 371.5,654.9 386.2,654.9 415.7,654.9 430.5,656.3 445.2,657.5 462.4,657.3 488.9,652.2 567.0,652.3 580.3,652.3 595.0,654.9 611.2,660.0 631.9,667.4 646.6,672.1 655.5,673.6 662.8,674.0 677.6,676.2 696.0,675.8 726.3,676.3 737.5,677.4 766.2,677.4 775.8,676.3 785.4,675.8 797.5,672.0" fill="none" stroke="#2d7bd6" stroke-width="1.5"/>
<polyline points="10.0,647.0 19.7,646.7 34.5,646.0 41.9,646.7 49.2,649.0 64.0,651.2 78.7,650.4 93.5,649.7 108.2,647.9 117.0,647.8 130.3,647.4 137.6,644.4 146.5,643.0 159.8,640.7 168.6,637.0 181.9,630.9 190.7,632.2 198.1,632.2 208.4,630.9 220.2,632.6 227.6,634.8 234.0,637.5 241.8,640.7 249.2,642.2 263.9,645.9 293.4,645.9 309.6,648.9 324.4,653.7 339.1,656.0 350.0,656.8 356.7,657.2 371.5,657.1 377.4,654.9 392.1,654.9 401.0,655.9 412.8,654.9 418.7,656.3 433.4,659.3 445.2,657.8 454.0,656.3 462.0,654.9 469.7,653.3 483.0,648.4 490.4,648.9 505.1,651.4 512.5,652.5 534.6,652.2 546.4,650.8 556.7,652.2 567.0,652.6 578.8,654.1 587.6,658.5 602.4,663.3 609.8,670.0 624.5,675.5 631.9,678.4 640.7,678.9 647.3,679.9 655.5,678.4 680.0,678.8 689.6,677.4 696.0,675.8 724.7,676.3 737.5,680.0 751.9,677.9 766.2,676.3 775.8,673.6 788.6,671.0 797.5,667.2" fill="none" stroke="#f79a1e" stroke-width="1.5"/>
<text x="95.7" y="710" font-size="15" fill="#666" font-weight="normal" font-family="'Liberation Sans',sans-serif" text-anchor="start" textLength="54.5" lengthAdjust="spacingAndGlyphs">2025-08</text>
<text x="207.4" y="710" font-size="15" fill="#666" font-weight="normal" font-family="'Liberation Sans',sans-serif" text-anchor="start" textLength="54.5" lengthAdjust="spacingAndGlyphs">2025-09</text>
<text x="350.6" y="710" font-size="15" fill="#666" font-weight="normal" font-family="'Liberation Sans',sans-serif" text-anchor="start" textLength="54.5" lengthAdjust="spacingAndGlyphs">2025-10</text>
<text x="477.7" y="710" font-size="15" fill="#666" font-weight="normal" font-family="'Liberation Sans',sans-serif" text-anchor="start" textLength="54.5" lengthAdjust="spacingAndGlyphs">2025-11</text>
<text x="627.5" y="710" font-size="15" fill="#666" font-weight="normal" font-family="'Liberation Sans',sans-serif" text-anchor="start" textLength="54.5" lengthAdjust="spacingAndGlyphs">2025-12</text>
</svg></body></html>
